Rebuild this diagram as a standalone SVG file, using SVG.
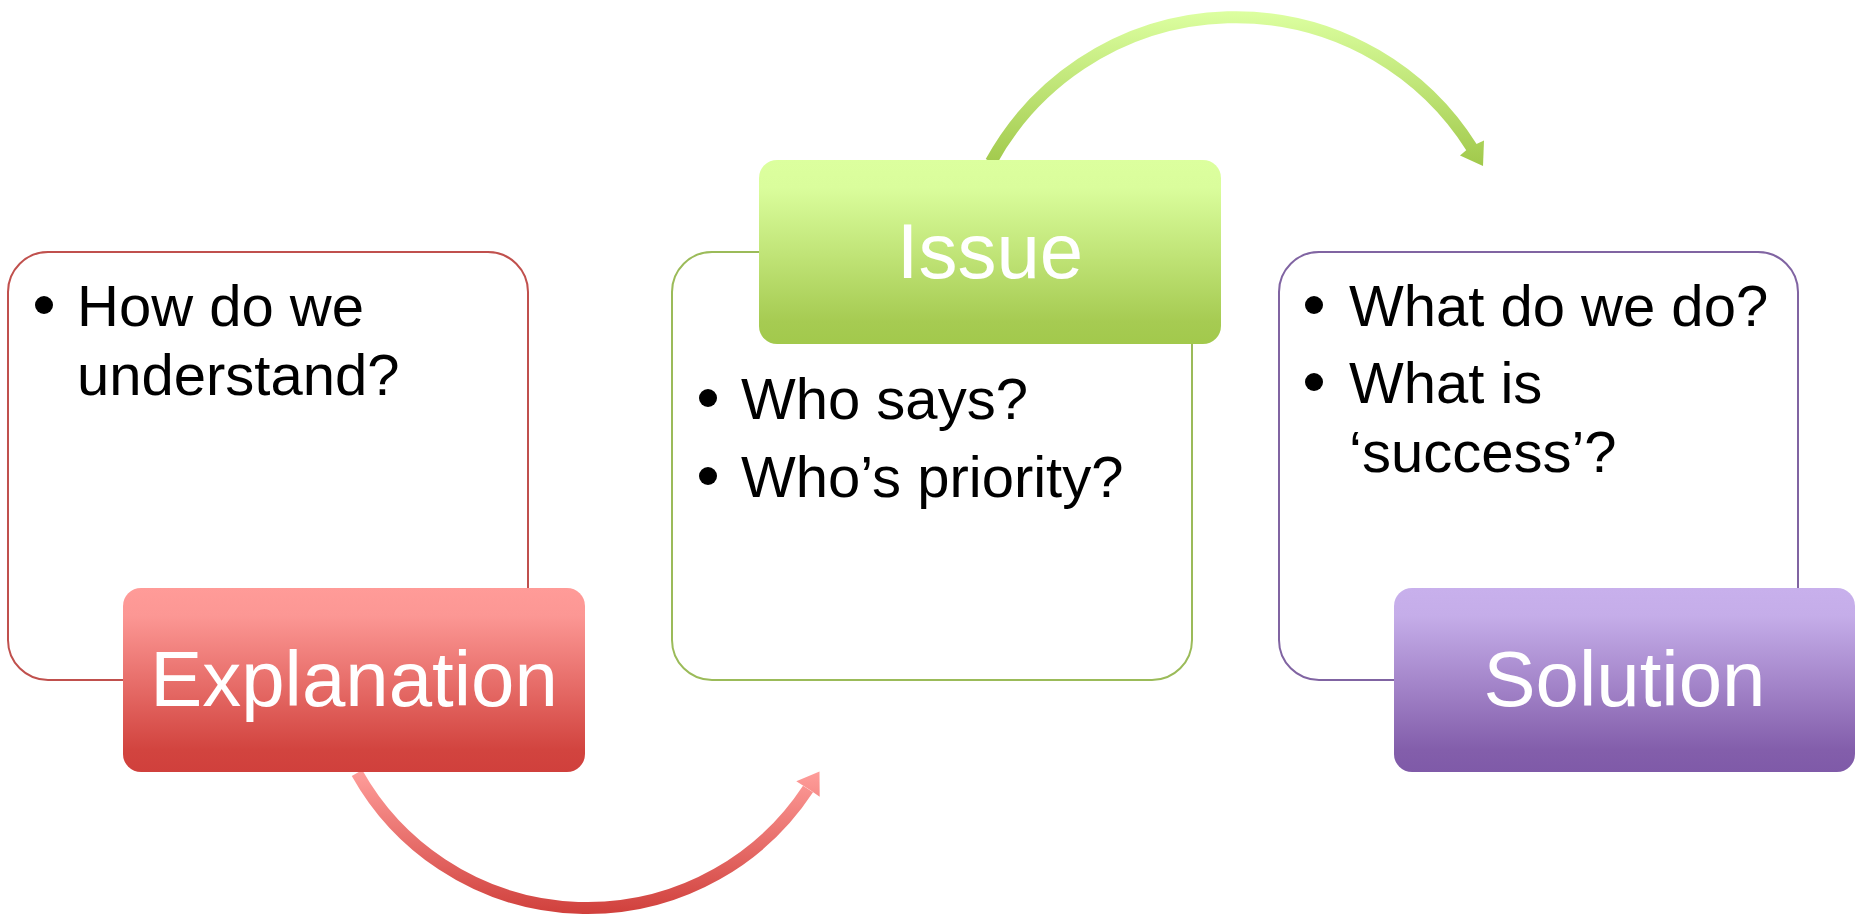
<svg xmlns="http://www.w3.org/2000/svg" width="1860" height="916" viewBox="0 0 1860 916">
<style>
.outer{fill:#fff;stroke-width:2}
.body{font-family:"Liberation Sans",Arial,sans-serif;font-size:58px;fill:#000}
.label{font-family:"Liberation Sans",Arial,sans-serif;font-size:78px;fill:#fff;text-anchor:middle}
.arc{fill:none;stroke-width:12}
</style>
<defs>
<linearGradient id="gRed" x1="0" y1="0" x2="0" y2="1">
<stop offset="0" stop-color="#FF9B98"/><stop offset="0.15" stop-color="#FC9794"/><stop offset="0.88" stop-color="#D2443F"/><stop offset="1" stop-color="#D0403C"/>
</linearGradient>
<linearGradient id="gGreen" x1="0" y1="0" x2="0" y2="1">
<stop offset="0" stop-color="#DCFF9E"/><stop offset="0.15" stop-color="#DAFD9C"/><stop offset="0.88" stop-color="#A6CB52"/><stop offset="1" stop-color="#A2C94C"/>
</linearGradient>
<linearGradient id="gPurple" x1="0" y1="0" x2="0" y2="1">
<stop offset="0" stop-color="#C8B0EC"/><stop offset="0.15" stop-color="#C5ADE9"/><stop offset="0.88" stop-color="#835EAB"/><stop offset="1" stop-color="#7F5AA8"/>
</linearGradient>
<linearGradient id="aRed" gradientUnits="userSpaceOnUse" x1="0" y1="770" x2="0" y2="914">
<stop offset="0" stop-color="#FF9E9B"/><stop offset="1" stop-color="#D0403C"/>
</linearGradient>
<linearGradient id="aGreen" gradientUnits="userSpaceOnUse" x1="0" y1="12" x2="0" y2="168">
<stop offset="0" stop-color="#DCFFA0"/><stop offset="1" stop-color="#A0C84A"/>
</linearGradient>
</defs>
<g id="connectors">
<path class="arc" stroke="url(#aRed)" d="M 357 773 A 264 264 0 0 0 808 789"/>
<polygon fill="url(#aRed)" points="819.5,771.4 819.7,796.7 810,790 796.3,781.3"/>
<path class="arc" stroke="url(#aGreen)" d="M 991 162 A 279 279 0 0 1 1472 148"/>
<polygon fill="url(#aGreen)" points="1483,166 1460,155.5 1470,147 1484,140.5"/>
</g>
<g id="explanation">
<rect class="outer" stroke="#C0504D" x="8" y="252" width="520" height="428" rx="40"/>
<circle cx="44" cy="305" r="9"/>
<text class="body" x="77" y="326">How do we</text>
<text class="body" x="77" y="395">understand?</text>
<rect fill="url(#gRed)" x="123" y="588" width="462" height="184" rx="18"/>
<text class="label" x="354" y="706">Explanation</text>
</g>
<g id="issue">
<rect class="outer" stroke="#9BBB59" x="672" y="252" width="520" height="428" rx="40"/>
<circle cx="708" cy="398" r="9"/>
<text class="body" x="741" y="419">Who says?</text>
<circle cx="708" cy="476" r="9"/>
<text class="body" x="741" y="497">Who’s priority?</text>
<rect fill="url(#gGreen)" x="759" y="160" width="462" height="184" rx="18"/>
<text class="label" x="990" y="278">Issue</text>
</g>
<g id="solution">
<rect class="outer" stroke="#8064A2" x="1279" y="252" width="519" height="428" rx="40"/>
<circle cx="1314" cy="305" r="9"/>
<text class="body" x="1349" y="326">What do we do?</text>
<circle cx="1314" cy="382" r="9"/>
<text class="body" x="1349" y="403">What is</text>
<text class="body" x="1349" y="472">‘success’?</text>
<rect fill="url(#gPurple)" x="1394" y="588" width="461" height="184" rx="18"/>
<text class="label" x="1624.5" y="706">Solution</text>
</g>
</svg>
